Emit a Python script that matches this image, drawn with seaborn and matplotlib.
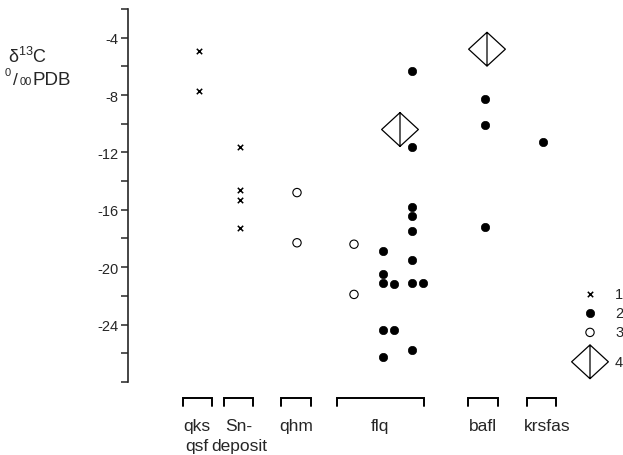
import numpy as np
import pandas as pd
import matplotlib
matplotlib.use("Agg")
import matplotlib.pyplot as plt
from matplotlib.path import Path
import seaborn as sns

sns.set_style("white")
plt.rcParams['font.family'] = ['Liberation Sans', 'DejaVu Sans']
plt.rcParams['mathtext.fontset'] = 'custom'
plt.rcParams['mathtext.rm'] = 'Liberation Sans'
plt.rcParams['mathtext.it'] = 'Liberation Sans'

# group labels (line 1, line 2) and where each group sits along x (plot units)
group_top = ['qks', 'Sn-', 'qhm', 'flq', 'bafl', 'krsfas']
group_bottom = ['qsf', 'deposit', '', '', '', '']
group_centers = [6.9, 11.0, 16.8, 25.2, 35.5, 41.3]
group_widths = [2.9, 2.9, 3.0, 8.7, 3.0, 2.9]
label_centers = [6.9, 11.1, 16.8, 25.2, 35.5, 41.9]

# columns used inside the groups
col_qks, col_sn, col_qhm = 7.1, 11.2, 16.9
col_flq = [22.6, 25.5, 26.6, 28.4, 29.5, 27.2]
col_bafl, col_krs = 35.7, 41.5

# 1: crosses
cross_x = [col_qks, col_qks, col_sn, col_sn, col_sn, col_sn]
cross_y = [-4.9, -7.7, -11.6, -14.6, -15.3, -17.3]

# 2: filled circles
filled_x = ([col_flq[1]] * 5 + [col_flq[2]] * 2 + [col_flq[3]] * 8 + [col_flq[4]]
            + [col_bafl] * 3 + [col_krs])
filled_y = ([-18.9, -20.5, -21.1, -24.4, -26.3]
            + [-21.2, -24.4]
            + [-6.3, -11.6, -15.8, -16.4, -17.5, -19.5, -21.1, -25.8]
            + [-21.1]
            + [-8.3, -10.1, -17.2]
            + [-11.3])

# 3: open circles
open_x = [col_qhm, col_qhm, col_flq[0], col_flq[0]]
open_y = [-14.8, -18.3, -18.4, -21.9]

# 4: split diamonds
diam_x = [col_flq[5], 35.9]
diam_y = [-10.4, -4.8]

legend_labels = ['1', '2', '3', '4']
legend_y = [-21.85, -23.2, -24.55, -26.6]
legend_x = 46.2

diamond = Path([(-1, 0), (0, 0.92), (1, 0), (0, -0.92), (0, 0), (0, 0.92), (0, -0.92)],
               [Path.MOVETO, Path.LINETO, Path.LINETO, Path.LINETO, Path.CLOSEPOLY,
                Path.MOVETO, Path.LINETO])

fig = plt.figure(figsize=(6.23, 4.56), dpi=100)
ax = fig.add_axes([128 / 623, 0, 1 - 128 / 623, 1])

def draw(x, y, kind):
    d = pd.DataFrame({'x': x, 'y': y})
    if kind == 1:
        sns.scatterplot(data=d, x='x', y='y', marker='x', color='black', s=15,
                        linewidth=1.1, ax=ax, clip_on=False)
    elif kind == 2:
        sns.scatterplot(data=d, x='x', y='y', marker='o', color='black', s=36,
                        edgecolor='black', linewidth=0.5, ax=ax, clip_on=False)
    elif kind == 3:
        sns.scatterplot(data=d, x='x', y='y', marker='o', facecolor='none',
                        edgecolor='black', s=36, linewidth=0.8, ax=ax, clip_on=False)
    else:
        sns.scatterplot(data=d, x='x', y='y', marker=diamond, facecolor='none',
                        edgecolor='black', s=700, linewidth=0.9, ax=ax, clip_on=False)

draw(cross_x, cross_y, 1)
draw(filled_x, filled_y, 2)
draw(open_x, open_y, 3)
draw(diam_x, diam_y, 4)

# legend key
for i, lab in enumerate(legend_labels):
    draw([legend_x], [legend_y[i]], i + 1)
    ax.text(legend_x + 2.5, legend_y[i], lab, fontsize=10.5, va='center', ha='left',
            clip_on=False)

# group brackets and names
for c, w in zip(group_centers, group_widths):
    ax.plot([c - w / 2, c - w / 2, c + w / 2, c + w / 2], [-29.7, -29.15, -29.15, -29.7],
            color='black', lw=1.4, solid_joinstyle='miter')
for c, t, b in zip(label_centers, group_top, group_bottom):
    ax.text(c, -31.05, t, fontsize=12.5, ha='center', va='center')
    if b:
        ax.text(c, -32.45, b, fontsize=12.5, ha='center', va='center')

ax.set_xlim(0, 49.5)
ax.set_ylim(-33.1, -1.3)
for s in ['top', 'right', 'bottom']:
    ax.spines[s].set_visible(False)
ax.spines['left'].set_bounds(-28, -2)
ax.spines['left'].set_linewidth(1.2)
ax.set_yticks([-4, -8, -12, -16, -20, -24])
ax.set_yticklabels(['-4', '-8', '-12', '-16', '-20', '-24'], fontsize=10.5)
ax.set_yticks([-2, -6, -10, -14, -18, -22, -26, -28], minor=True)
ax.tick_params(axis='y', which='both', direction='out', length=5, width=1.1, left=True, pad=2)
ax.set_xticks([])
ax.set_xlabel('')
ax.set_ylabel('')

# y-axis title, placed in pixel units
W, H = 623, 456
fig.text(8 / W, 1 - 57 / H, r'$\mathregular{\delta^{13}C}$', fontsize=13, va='center')
fig.text(5 / W, 1 - 76 / H, '0', fontsize=8, va='baseline')
fig.text(13 / W, 1 - 85 / H, '/', fontsize=12.5, va='baseline')
fig.text(20 / W, 1 - 85 / H, '00', fontsize=8, va='baseline')
fig.text(32 / W, 1 - 85 / H, 'PDB', fontsize=13.5, va='baseline')

fig.savefig('out.png', dpi=100)
